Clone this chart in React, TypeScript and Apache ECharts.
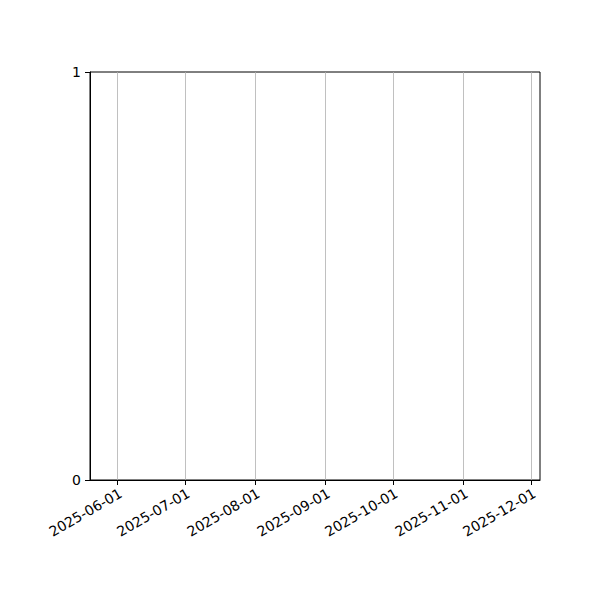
import React, { useEffect, useRef } from "react";
import * as echarts from "echarts";

// x range of the axis (dates)
const xRange = ["2025-05-20", "2025-12-05"];
// month ticks shown on x axis
const monthTicks = [
  "2025-06-01",
  "2025-07-01",
  "2025-08-01",
  "2025-09-01",
  "2025-10-01",
  "2025-11-01",
  "2025-12-01",
];
// y ticks
const yTicks = [0, 1];
// the plotted series is empty
const seriesData: [number, number][] = [];

const toTime = (s: string) => {
  const [y, m, d] = s.split("-").map(Number);
  return Date.UTC(y, m - 1, d);
};

const fmtDate = (v: number) => new Date(v).toISOString().slice(0, 10);

const App: React.FC = () => {
  const chartRef = useRef<HTMLDivElement>(null);

  useEffect(() => {
    if (!chartRef.current) return;
    const chart = echarts.init(chartRef.current, undefined, { renderer: "svg" });
    const tickValues = monthTicks.map(toTime);
    const font = { fontFamily: "DejaVu Sans", fontSize: 14, color: "#000" };

    chart.setOption({
      animation: false,
      backgroundColor: "#fff",
      grid: {
        left: 90,
        right: 60,
        top: 72,
        bottom: 120,
        show: true,
        borderColor: "#000",
        borderWidth: 1,
        backgroundColor: "transparent",
      },
      xAxis: {
        type: "value",
        min: toTime(xRange[0]),
        max: toTime(xRange[1]),
        axisLine: { show: true, lineStyle: { color: "#000", width: 1 } },
        axisTick: {
          show: true,
          length: 5,
          lineStyle: { color: "#000", width: 1 },
          customValues: tickValues,
        },
        axisLabel: {
          ...font,
          rotate: 30,
          margin: 6,
          verticalAlign: "top",
          align: "right",
          customValues: tickValues,
          formatter: (v: number) => fmtDate(v),
        },
        splitLine: { show: true, lineStyle: { color: "#b0b0b0", width: 0.8 } },
      },
      yAxis: {
        type: "value",
        min: yTicks[0],
        max: yTicks[yTicks.length - 1],
        interval: 1,
        axisLine: { show: true, lineStyle: { color: "#000", width: 1 } },
        axisTick: { show: true, length: 5, lineStyle: { color: "#000", width: 1 } },
        axisLabel: { ...font, margin: 9 },
        splitLine: { show: false },
      },
      series: [
        {
          type: "line",
          data: seriesData,
          symbol: "none",
        },
      ],
    });

    return () => {
      chart.dispose();
    };
  }, []);

  return (
    <div
      ref={chartRef}
      style={{ position: "absolute", left: 0, top: 0, width: "600px", height: "600px" }}
    />
  );
};

export default App;
